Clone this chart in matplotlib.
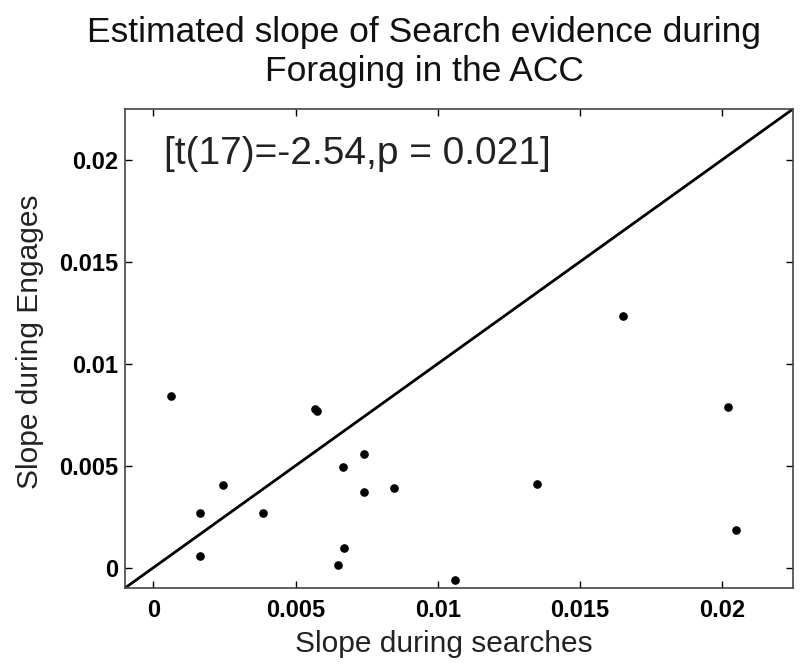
import numpy as np
import matplotlib.pyplot as plt

# per-session slopes: searches (x) vs engages (y)
search_slope = [0.00061, 0.00567, 0.00576, 0.00741, 0.00666, 0.00246, 0.00741,
                0.00846, 0.00165, 0.00386, 0.00165, 0.00671, 0.00649, 0.01653,
                0.02022, 0.01350, 0.02048, 0.01060]
engage_slope = [0.00843, 0.00779, 0.00768, 0.00555, 0.00494, 0.00403, 0.00371,
                0.00389, 0.00268, 0.00268, 0.00059, 0.00096, 0.00011, 0.01234,
                0.00787, 0.00409, 0.00183, -0.00061]
lims = [-0.001, 0.0225]
ticks = [0, 0.005, 0.01, 0.015, 0.02]
tick_labels = ['0', '0.005', '0.01', '0.015', '0.02']
stat_text = '[t(17)=-2.54,p = 0.021]'

plt.rcParams['font.family'] = ['Liberation Sans', 'DejaVu Sans']

fig = plt.figure(figsize=(8, 6.64), dpi=100)
ax = fig.add_axes([125/800, 1 - 588/664, (793-125)/800, (588-109)/664])

# identity line
ax.plot(lims, lims, color='black', lw=2)
ax.scatter(search_slope, engage_slope, s=27, color='black', zorder=3)

ax.set_xlim(lims)
ax.set_ylim(lims)
ax.set_xticks(ticks)
ax.set_yticks(ticks)
ax.set_xticklabels(tick_labels, fontweight='bold', fontsize=17)
ax.set_yticklabels(tick_labels, fontweight='bold', fontsize=17)
ax.tick_params(direction='in', length=5, top=True, right=True, width=1)
ax.tick_params(axis='x', pad=8)
ax.tick_params(axis='y', pad=5)
for s in ax.spines.values():
    s.set_color('#444444')
    s.set_linewidth(1.2)

ax.set_xlabel('Slope during searches', fontsize=21.5, color='#222222')
ax.set_ylabel('Slope during Engages', fontsize=21.5, color='#222222')
ax.xaxis.set_label_coords(0.478, -0.088)
ax.yaxis.set_label_coords(-0.121, 0.515)

ax.text(0.00038, 0.0203, stat_text, fontsize=28, color='#222222', va='center')

fig.text(424/800, 1 - 52/664, 'Estimated slope of Search evidence during\nForaging in the ACC',
         ha='center', va='center', fontsize=25.5, color='#111111', linespacing=1.2)

fig.savefig('out.png', dpi=100)
